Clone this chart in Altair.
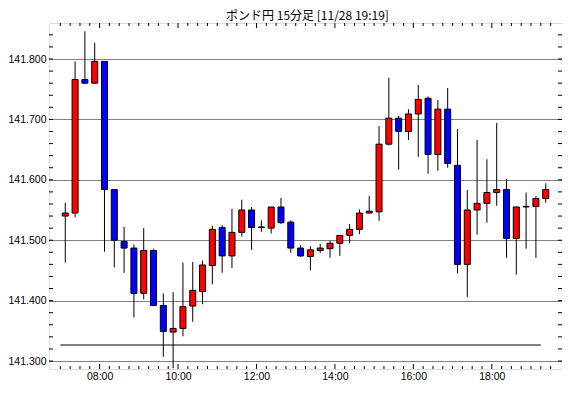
import altair as alt
import pandas as pd

# ---- data ----
title_text = "ポンド円 15分足 [11/28 19:19]"
first_hour = 7.0          # first candle starts 07:00, 15-minute candles
candle_hours = 0.25

opens = [141.540, 141.545, 141.766, 141.760, 141.796, 141.584, 141.498, 141.487, 141.412, 141.483,
         141.392, 141.348, 141.354, 141.391, 141.415, 141.458, 141.521, 141.474, 141.513, 141.550,
         141.521, 141.520, 141.555, 141.530, 141.487, 141.473, 141.483, 141.486, 141.495, 141.508,
         141.518, 141.545, 141.547, 141.659, 141.702, 141.680, 141.709, 141.735, 141.642, 141.717,
         141.624, 141.460, 141.550, 141.561, 141.579, 141.584, 141.503, 141.555, 141.556, 141.569]
highs = [141.562, 141.796, 141.846, 141.827, 141.796, 141.584, 141.522, 141.493, 141.520, 141.486,
         141.412, 141.414, 141.463, 141.464, 141.466, 141.524, 141.525, 141.552, 141.567, 141.555,
         141.533, 141.555, 141.570, 141.533, 141.492, 141.490, 141.494, 141.499, 141.508, 141.527,
         141.551, 141.573, 141.689, 141.769, 141.706, 141.717, 141.757, 141.738, 141.732, 141.752,
         141.684, 141.583, 141.666, 141.634, 141.694, 141.601, 141.555, 141.579, 141.573, 141.594]
lows = [141.463, 141.538, 141.759, 141.759, 141.481, 141.455, 141.446, 141.372, 141.402, 141.392,
        141.307, 141.288, 141.341, 141.365, 141.394, 141.427, 141.446, 141.454, 141.506, 141.484,
        141.514, 141.511, 141.527, 141.479, 141.472, 141.450, 141.479, 141.471, 141.474, 141.495,
        141.510, 141.545, 141.532, 141.657, 141.617, 141.666, 141.638, 141.610, 141.615, 141.620,
        141.445, 141.406, 141.509, 141.529, 141.557, 141.471, 141.443, 141.486, 141.471, 141.562]
closes = [141.545, 141.766, 141.760, 141.796, 141.584, 141.500, 141.487, 141.412, 141.483, 141.392,
          141.349, 141.354, 141.390, 141.417, 141.459, 141.518, 141.474, 141.513, 141.550, 141.521,
          141.522, 141.555, 141.529, 141.487, 141.474, 141.484, 141.487, 141.495, 141.508, 141.518,
          141.545, 141.548, 141.659, 141.702, 141.680, 141.709, 141.733, 141.642, 141.717, 141.627,
          141.460, 141.550, 141.561, 141.579, 141.584, 141.503, 141.555, 141.556, 141.569, 141.584]

ref_line_value = 141.3265
ref_line_start = 7.0
ref_line_end = 19.25

y_label_values = [141.3, 141.4, 141.5, 141.6, 141.7, 141.8]
x_label_hours = [8, 10, 12, 14, 16, 18]
x_minor_ticks = [7.0 + 0.25 * i for i in range(51)]
y_minor_ticks = [round(141.30 + 0.02 * i, 2) for i in range(28)]

x_domain = [6.8375, 19.6625]
y_domain = [141.2868, 141.8596]

UP = "#ff0000"
DOWN = "#0000ff"

# ---- tables ----
n = len(opens)
df = pd.DataFrame({
    "t": [first_hour + candle_hours * i + candle_hours / 2 for i in range(n)],
    "open": opens, "high": highs, "low": lows, "close": closes,
})
df["body_lo"] = df[["open", "close"]].min(axis=1)
df["body_hi"] = df[["open", "close"]].max(axis=1)
df["col"] = [UP if c >= o else DOWN for o, c in zip(opens, closes)]

xs = alt.Scale(domain=x_domain, nice=False, zero=False)
ys = alt.Scale(domain=y_domain, nice=False, zero=False)

W, H = 513, 346

x_axis = alt.Axis(values=x_label_hours,
                  labelExpr="(datum.value < 10 ? '0' : '') + datum.value + ':00'",
                  ticks=False, grid=False, domain=False, title=None,
                  labelFont="Liberation Sans", labelFontSize=10.5, labelColor="#000",
                  labelPadding=2)
y_axis = alt.Axis(values=y_label_values, format=".3f", ticks=False, domain=False, title=None,
                  grid=True, gridDash=[1, 1], gridColor="#000", gridOpacity=1, gridWidth=1,
                  labelFont="Liberation Sans", labelFontSize=10.5, labelColor="#000",
                  labelPadding=3)


def X(field):
    return alt.X(field, scale=xs, axis=x_axis)


def Y(field):
    return alt.Y(field, scale=ys, axis=y_axis)


ref_df = pd.DataFrame({"x": [ref_line_start], "x2": [ref_line_end], "y": [ref_line_value]})
ref_line = alt.Chart(ref_df).mark_rule(color="#000", strokeWidth=1).encode(
    x=X("x:Q"), x2="x2:Q", y=Y("y:Q"),
)

wicks = alt.Chart(df).mark_rule(color="#000", strokeWidth=1).encode(
    x=X("t:Q"), y=Y("low:Q"), y2="high:Q",
)

bodies = alt.Chart(df).mark_bar(size=6, stroke="#000", strokeWidth=1).encode(
    x=X("t:Q"), y=Y("body_lo:Q"), y2="body_hi:Q",
    color=alt.Color("col:N", scale=None),
)

# inward tick marks
xt = pd.DataFrame({"t": x_minor_ticks})
xt["major"] = [(abs(v - round(v)) < 1e-9 and int(round(v)) in x_label_hours) for v in x_minor_ticks]
xt_minor = xt[~xt["major"]]
xt_major = xt[xt["major"]]


def xticks(d, y0, y1):
    return alt.Chart(d).mark_rule(color="#000", strokeWidth=1).encode(
        x=X("t:Q"), y=alt.value(y0), y2=alt.value(y1))


yt = pd.DataFrame({"v": y_minor_ticks})


def yticks(x0, x1):
    return alt.Chart(yt).mark_rule(color="#000", strokeWidth=1).encode(
        y=Y("v:Q"), x=alt.value(x0), x2=alt.value(x1))


title_mark = alt.Chart(pd.DataFrame({"label": [title_text]})).mark_text(
    font="Noto Sans CJK JP", fontSize=12, color="#000", align="center", baseline="middle"
).encode(text="label:N", x=alt.value(W / 2 + 2), y=alt.value(-7))

chart = alt.layer(
    ref_line,
    xticks(xt_minor, H, H - 3), xticks(xt_major, H, H - 5),
    xticks(xt_minor, 0, 3), xticks(xt_major, 0, 5),
    yticks(0, 4), yticks(W, W - 4),
    wicks, bodies, title_mark,
).properties(
    width=W, height=H,
    autosize=alt.AutoSizeParams(type="none"),
    padding={"left": 41, "top": 15, "right": 0, "bottom": 14},
).configure_view(
    stroke="#000", strokeWidth=1, fill="#fff"
).configure(background="#fff")

chart.save("out.html", embed_options={"renderer": "svg", "actions": False})
